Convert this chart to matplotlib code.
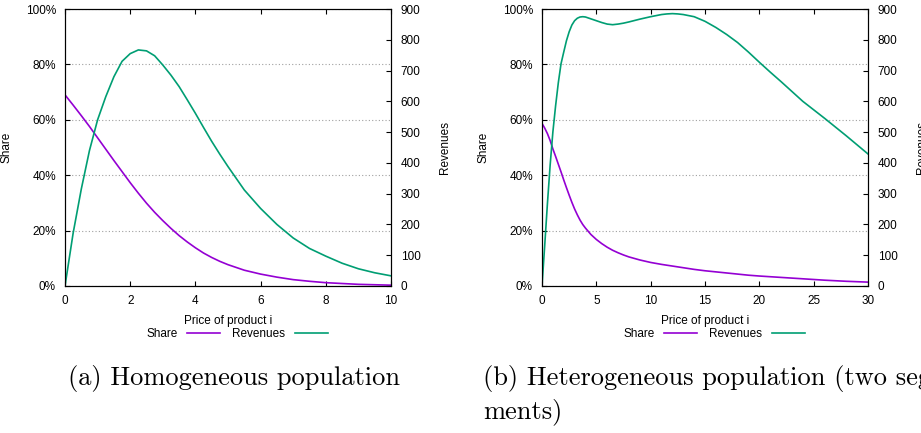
import matplotlib
matplotlib.use("Agg")
import matplotlib.pyplot as plt
from matplotlib.ticker import PercentFormatter, MultipleLocator

plt.rcParams['font.family'] = ['Liberation Sans', 'DejaVu Sans']

# (a) homogeneous population
price_a = [0, 0.25, 0.5, 0.75, 1, 1.25, 1.5, 1.75, 2, 2.25, 2.5, 2.75, 3, 3.25, 3.5, 3.75,
           4, 4.25, 4.5, 4.75, 5, 5.5, 6, 6.5, 7, 7.5, 8, 8.5, 9, 9.5, 10]
share_a = [69.0, 65.3, 61.5, 57.6, 53.5, 49.4, 45.3, 41.3, 37.3, 33.5, 29.9, 26.6, 23.6, 20.8, 18.2, 15.9,
           13.8, 11.9, 10.3, 8.9, 7.7, 5.7, 4.3, 3.2, 2.3, 1.7, 1.2, 0.9, 0.6, 0.45, 0.3]
revenue_a = [0, 172, 315, 440, 540, 615, 680, 730, 755, 767, 764, 748, 718, 685, 648, 605,
             561, 515, 470, 428, 388, 312, 252, 200, 156, 122, 97, 74, 56, 43, 33]

# (b) heterogeneous population (two segments)
price_b = [0, 0.25, 0.5, 0.75, 1, 1.25, 1.5, 1.75, 2, 2.25, 2.5, 2.75, 3, 3.25, 3.5, 3.75,
           4, 4.5, 5, 5.5, 6, 6.5, 7, 7.5, 8, 9, 10, 11, 11.5, 12, 12.5, 13, 14, 15,
           16, 17, 18, 19, 20, 21, 22, 24, 26, 28, 30]
share_b = [58.7, 57.0, 55.0, 52.5, 49.5, 46.8, 44.0, 41.2, 38.3, 35.5, 32.8, 30.2, 27.8, 25.7, 23.8, 22.2,
           20.9, 18.6, 16.8, 15.3, 14.0, 12.9, 12.0, 11.2, 10.5, 9.4, 8.5, 7.8, 7.5, 7.2, 6.9, 6.6, 6.0, 5.5,
           5.1, 4.7, 4.3, 3.9, 3.6, 3.35, 3.1, 2.6, 2.1, 1.7, 1.4]
revenue_b = [0, 132, 268, 393, 500, 585, 660, 722, 760, 797, 826, 848, 862, 870, 874, 875,
             874, 868, 862, 856, 851, 849, 851, 854, 858, 867, 875, 882, 884, 885, 884, 882, 875, 860,
             840, 817, 791, 760, 727, 695, 664, 600, 545, 488, 429]

captions = ['(a) Homogeneous population', '(b) Heterogeneous population (two seg-', 'ments)']

share_color = '#9400D3'
rev_color = '#009E73'

fig = plt.figure(figsize=(9.21, 4.33), dpi=100)

panels = [
    (65, price_a, share_a, revenue_a, 10, 2),
    (542, price_b, share_b, revenue_b, 30, 5),
]

for left_px, x, s, r, xmax, xstep in panels:
    ax = fig.add_axes([left_px / 921, (433 - 286) / 433, 326 / 921, 277 / 433])
    ax2 = ax.twinx()

    l1, = ax.plot(x, s, color=share_color, lw=1.2, label='Share')
    l2, = ax2.plot(x, r, color=rev_color, lw=1.2, label='Revenues')

    ax.set_xlim(0, xmax)
    ax.set_ylim(0, 100)
    ax2.set_ylim(0, 900)
    ax.xaxis.set_major_locator(MultipleLocator(xstep))
    ax.yaxis.set_major_locator(MultipleLocator(20))
    ax2.yaxis.set_major_locator(MultipleLocator(100))
    ax.yaxis.set_major_formatter(PercentFormatter(xmax=100, decimals=0))

    ax.grid(axis='y', color='#a0a0a0', linestyle=(0, (1, 2)), lw=0.8)

    ax.tick_params(axis='x', direction='in', top=True, length=3.5, width=0.8,
                   labelsize=8.5, pad=6.5)
    ax.tick_params(axis='y', direction='in', left=True, right=False, length=3.5,
                   width=0.8, labelsize=8.5, pad=6.5)
    ax2.tick_params(axis='y', direction='in', right=True, length=3.5, width=0.8,
                    labelsize=8.5, pad=7)

    for a in (ax, ax2):
        for sp in a.spines.values():
            sp.set_linewidth(0.8)

    ax.set_xlabel('Price of product i', fontsize=8.5)
    ax.xaxis.set_label_coords(0.5, -0.105)
    ax.set_ylabel('Share', fontsize=8.5)
    ax.yaxis.set_label_coords(-0.16, 0.5)
    ax2.set_ylabel('Revenues', fontsize=8.5)
    ax2.yaxis.set_label_coords(1.148, 0.5)

    ax.legend(handles=[l1, l2], loc='center', bbox_to_anchor=(0.528, -0.173),
              ncol=2, frameon=False, markerfirst=False, fontsize=8.5,
              handlelength=2.8, handletextpad=0.85, columnspacing=1.0,
              borderpad=0, borderaxespad=0)

fig.text(68 / 921, 1 - 378 / 433, captions[0], fontfamily='cmr10', fontsize=19, va='center')
fig.text(483 / 921, 1 - 378 / 433, captions[1], fontfamily='cmr10', fontsize=19, va='center')
fig.text(483 / 921, 1 - 412 / 433, captions[2], fontfamily='cmr10', fontsize=19, va='center')

fig.savefig('out.png', dpi=100)
